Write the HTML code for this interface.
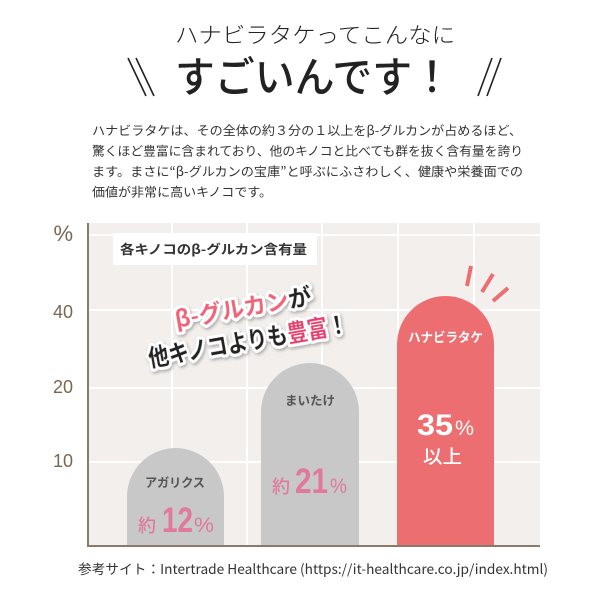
<!DOCTYPE html>
<html><head><meta charset="utf-8"><style>
html,body{margin:0;padding:0;background:#fff;}
svg{display:block;}
text{font-family:"Liberation Sans","Noto Sans CJK JP",sans-serif;}
.jp{font-family:"Noto Sans CJK JP","Liberation Sans",sans-serif;}
</style></head><body>
<svg width="600" height="600" viewBox="0 0 600 600" xmlns="http://www.w3.org/2000/svg">
<defs>
<filter id="sh" x="-20%" y="-40%" width="140%" height="180%">
<feDropShadow dx="1" dy="2" stdDeviation="1.5" flood-color="#000" flood-opacity="0.3"/>
</filter>
</defs>
<rect width="600" height="600" fill="#fff"/>
<!-- Header -->
<text class="jp" x="175" y="43" font-size="22" font-weight="300" fill="#222" textLength="280" lengthAdjust="spacingAndGlyphs">ハナビラタケってこんなに</text>
<text class="jp" x="175" y="92" font-size="42" font-weight="500" fill="#222" textLength="277" lengthAdjust="spacingAndGlyphs">すごいんです！</text>
<g stroke="#222" stroke-width="1.6">
<line x1="128" y1="58" x2="146" y2="96"/>
<line x1="136" y1="58" x2="154" y2="96"/>
<line x1="492" y1="58" x2="478" y2="96"/>
<line x1="501" y1="58" x2="487" y2="96"/>
</g>
<g class="jp" font-size="12.5" fill="#333">
<text class="jp" x="92" y="135" textLength="430" lengthAdjust="spacingAndGlyphs">ハナビラタケは、その全体の約３分の１以上をβ-グルカンが占めるほど、</text>
<text class="jp" x="92" y="155.5" textLength="431" lengthAdjust="spacingAndGlyphs">驚くほど豊富に含まれており、他のキノコと比べても群を抜く含有量を誇り</text>
<text class="jp" x="92" y="176" textLength="431" lengthAdjust="spacingAndGlyphs">ます。まさに“β-グルカンの宝庫”と呼ぶにふさわしく、健康や栄養面での</text>
<text class="jp" x="92" y="196.5" textLength="180" lengthAdjust="spacingAndGlyphs">価値が非常に高いキノコです。</text>
</g>
<!-- Plot area -->
<rect x="89" y="223" width="451" height="323" fill="#f2efed"/>
<g stroke="#fff" stroke-width="2">
<line x1="172" y1="223" x2="172" y2="546"/>
<line x1="247" y1="223" x2="247" y2="546"/>
<line x1="322" y1="223" x2="322" y2="546"/>
<line x1="398" y1="223" x2="398" y2="546"/>
<line x1="474" y1="223" x2="474" y2="546"/>
<line x1="89" y1="235" x2="540" y2="235"/>
<line x1="89" y1="310" x2="540" y2="310"/>
<line x1="89" y1="388" x2="540" y2="388"/>
<line x1="89" y1="462" x2="540" y2="462"/>
</g>
<!-- Legend box -->
<rect x="113" y="233" width="204" height="32" fill="#fff"/>
<text class="jp" x="120" y="254" font-size="13" font-weight="700" fill="#333" textLength="187" lengthAdjust="spacingAndGlyphs">各キノコのβ-グルカン含有量</text>
<!-- Bars -->
<path d="M127,546 V496.5 A48.5,48.5 0 0 1 224,496.5 V546 Z" fill="#c8c8c8"/>
<path d="M261,546 V412 A49,49 0 0 1 359,412 V546 Z" fill="#c8c8c8"/>
<path d="M397,546 V344.5 A48.5,48.5 0 0 1 494,344.5 V546 Z" fill="#ec6e70"/>
<!-- Burst -->
<g stroke="#ec6e70" stroke-width="4" stroke-linecap="butt">
<line x1="471" y1="266" x2="467" y2="286"/>
<line x1="493" y1="274" x2="482" y2="292"/>
<line x1="508" y1="288" x2="493" y2="301"/>
</g>
<!-- Axes -->
<line x1="88" y1="223" x2="88" y2="547" stroke="#8b7a6a" stroke-width="2"/>
<line x1="87" y1="546" x2="540" y2="546" stroke="#8b7a6a" stroke-width="2"/>
<g fill="#7a6753" text-anchor="end">
<text x="73" y="241" font-size="22">%</text>
<text x="73" y="318" font-size="18">40</text>
<text x="73" y="393" font-size="18">20</text>
<text x="73" y="467" font-size="18">10</text>
</g>
<!-- Bar labels -->
<text class="jp" x="145" y="487" font-size="12.5" font-weight="700" fill="#555" textLength="60" lengthAdjust="spacingAndGlyphs">アガリクス</text>
<text class="jp" x="138" y="532" font-size="18" font-weight="500" fill="#e0799b">約</text>
<text x="162" y="532" font-size="35" font-weight="700" fill="#e0799b" textLength="31" lengthAdjust="spacingAndGlyphs">12</text>
<text x="194" y="532" font-size="21" fill="#e0799b" textLength="20" lengthAdjust="spacingAndGlyphs">%</text>

<text class="jp" x="285" y="405" font-size="12.5" font-weight="700" fill="#555" textLength="50" lengthAdjust="spacingAndGlyphs">まいたけ</text>
<text class="jp" x="272" y="493" font-size="18" font-weight="500" fill="#e0799b">約</text>
<text x="295" y="493" font-size="35" font-weight="700" fill="#e0799b" textLength="33" lengthAdjust="spacingAndGlyphs">21</text>
<text x="330" y="493" font-size="21" fill="#e0799b" textLength="17" lengthAdjust="spacingAndGlyphs">%</text>

<text class="jp" x="408" y="342" font-size="13" font-weight="700" fill="#fff" textLength="75" lengthAdjust="spacingAndGlyphs">ハナビラタケ</text>
<text x="417" y="435" font-size="30" font-weight="700" fill="#fff" textLength="36" lengthAdjust="spacingAndGlyphs">35</text>
<text x="455" y="435" font-size="21" fill="#fff" textLength="19" lengthAdjust="spacingAndGlyphs">%</text>
<text class="jp" x="423" y="463" font-size="19" font-weight="500" fill="#fff" textLength="39" lengthAdjust="spacingAndGlyphs">以上</text>
<!-- Callout -->
<g transform="rotate(-10 246 324)" filter="url(#sh)">
<text class="jp" x="246" y="315.5" text-anchor="middle" font-size="23" font-weight="700" stroke="#fff" stroke-width="6" stroke-linejoin="round" paint-order="stroke" textLength="138" lengthAdjust="spacingAndGlyphs"><tspan fill="#ef6478">β-グルカン</tspan><tspan fill="#222">が</tspan></text>
<text class="jp" x="245" y="349.5" text-anchor="middle" font-size="24" font-weight="700" stroke="#fff" stroke-width="6" stroke-linejoin="round" paint-order="stroke" textLength="202" lengthAdjust="spacingAndGlyphs"><tspan fill="#222">他キノコよりも</tspan><tspan fill="#e8406e">豊富</tspan><tspan fill="#222">！</tspan></text>
</g>
<!-- Source -->
<text class="jp" x="78" y="574" font-size="13.5" fill="#333" textLength="470" lengthAdjust="spacingAndGlyphs">参考サイト：Intertrade Healthcare (https://it-healthcare.co.jp/index.html)</text>
</svg>
</body></html>
